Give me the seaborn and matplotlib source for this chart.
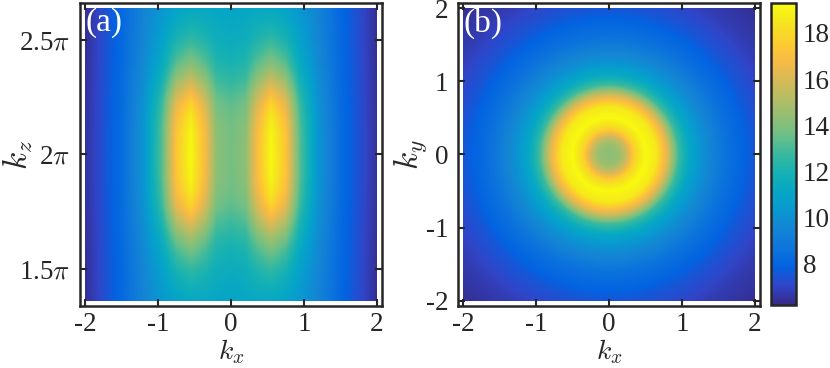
import numpy as np
import seaborn as sns
import matplotlib
matplotlib.use("Agg")
import matplotlib.pyplot as plt

# ---- values ----
# panel (a): profile across kx at kz = 2*pi and at the top/bottom rows (kz = 2*pi +/- 2)
kx_pts = [0.0, 0.2, 0.35, 0.55, 0.75, 0.95, 1.2, 1.5, 1.8, 2.0]
mid_row = [13.8, 14.3, 16.8, 19.2, 17.4, 13.2, 10.2, 8.3, 7.2, 6.5]
top_row = [11.0, 11.1, 11.2, 11.2, 10.9, 10.3, 9.4, 8.1, 7.1, 6.4]
# how strongly the middle-row profile persists as |kz - 2*pi| grows
dz_pts = [0.0, 0.3, 0.5, 0.7, 0.9, 1.1, 1.3, 1.6, 2.0]
weight = [1.0, 0.98, 0.93, 0.83, 0.66, 0.48, 0.33, 0.16, 0.0]

# panel (b): radial profile (ring)
r_pts = [0.0, 0.15, 0.25, 0.35, 0.5, 0.65, 0.8, 0.95, 1.1, 1.3, 1.6, 2.0, 2.4, 2.9]
ring = [14.2, 14.6, 15.8, 17.8, 19.2, 18.6, 16.2, 12.9, 11.2, 9.9, 8.6, 7.5, 6.8, 6.3]

cbar_ticks = [8, 10, 12, 14, 16, 18]
clim = (6.2, 19.3)

# parula-like anchors
parula = ["#352a87", "#3145c8", "#0363e1", "#0d75dc", "#1485d4", "#0998d1",
          "#06a7c6", "#15b1b4", "#38b99e", "#6cbf88", "#92bf73", "#b7bd64",
          "#d9ba56", "#f8bb44", "#fcce2e", "#f5e51e", "#f9fb0e"]
cmap = sns.blend_palette(parula, as_cmap=True)

sns.set_style("ticks")
plt.rcParams["font.family"] = ["Liberation Serif", "DejaVu Serif"]
plt.rcParams["mathtext.fontset"] = "cm"
plt.rcParams["axes.unicode_minus"] = False

frame = "#262626"
tick_fs = 19.5
label_fs = 22

# build the fields
kx = np.linspace(-2, 2, 401)
dz = np.linspace(-2, 2, 401)
KX, DZ = np.meshgrid(kx, dz)
mid = np.interp(np.abs(KX), kx_pts, mid_row)
top = np.interp(np.abs(KX), kx_pts, top_row)
w = np.interp(np.abs(DZ), dz_pts, weight)
field_a = top + (mid - top) * w

ky = np.linspace(-2, 2, 401)
KX2, KY2 = np.meshgrid(kx, ky)
field_b = np.interp(np.hypot(KX2, KY2), r_pts, ring)

fig = plt.figure(figsize=(8.3, 3.68), dpi=100)
ax_a = fig.add_axes([0.0964, 0.1685, 0.3639, 0.8234])
ax_b = fig.add_axes([0.5518, 0.1685, 0.3639, 0.8234])
cax = fig.add_axes([0.9289, 0.1712, 0.0301, 0.8207])

pad = 2.07
c = 2 * np.pi
ax_a.imshow(field_a, extent=[-2, 2, c - 2, c + 2], origin="lower", cmap=cmap,
            vmin=clim[0], vmax=clim[1], aspect="auto", interpolation="bilinear")
ax_a.set_xlim(-pad, pad)
ax_a.set_ylim(c - pad, c + pad)
ax_a.set_yticks([1.5 * np.pi, 2 * np.pi, 2.5 * np.pi])
ax_a.set_yticklabels([r"1.5$\pi$", r"2$\pi$", r"2.5$\pi$"])
ax_a.set_ylabel(r"$k_z$", fontsize=label_fs + 2)
ax_a.yaxis.set_label_coords(-0.15, 0.5)

im = ax_b.imshow(field_b, extent=[-2, 2, -2, 2], origin="lower", cmap=cmap,
                 vmin=clim[0], vmax=clim[1], aspect="auto", interpolation="bilinear")
ax_b.set_xlim(-pad, pad)
ax_b.set_ylim(-pad, pad)
ax_b.set_yticks([-2, -1, 0, 1, 2])
ax_b.set_ylabel(r"$k_y$", fontsize=label_fs + 2)
ax_b.yaxis.set_label_coords(-0.095, 0.5)

for ax, tag in [(ax_a, "(a)"), (ax_b, "(b)")]:
    ax.set_xticks([-2, -1, 0, 1, 2])
    ax.set_xlabel(r"$k_x$", fontsize=label_fs - 2)
    ax.xaxis.set_label_coords(0.5, -0.104)
    ax.tick_params(direction="in", length=5, width=1.5, color=frame,
                   top=True, right=True, labelsize=tick_fs, pad=7)
    ax.tick_params(axis="x", pad=4)
    for s in ax.spines.values():
        s.set_color(frame)
        s.set_linewidth(1.8)
    ax.text(0.018, 0.985, tag, transform=ax.transAxes, color="white",
            fontsize=24, ha="left", va="top")

cb = fig.colorbar(im, cax=cax, ticks=cbar_ticks)
cb.outline.set_edgecolor(frame)
cb.outline.set_linewidth(1.8)
cax.tick_params(direction="in", length=4, width=1.5, color=frame,
                labelsize=tick_fs, pad=5)

fig.savefig("out.png", dpi=100)
